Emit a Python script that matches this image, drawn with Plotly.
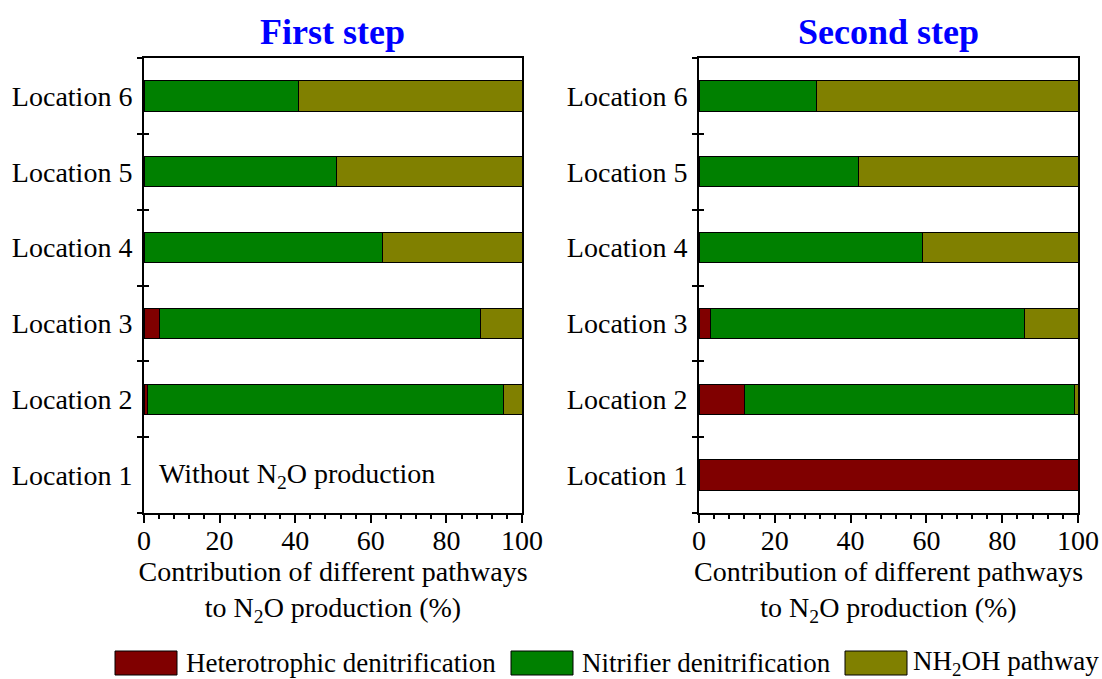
import plotly.graph_objects as go

# Pathway contributions to N2O production (%), per location
locations = ["Location 1", "Location 2", "Location 3", "Location 4", "Location 5", "Location 6"]
pathways = ["Heterotrophic denitrification", "Nitrifier denitrification", "NH<sub>2</sub>OH pathway"]
colors = ["#800000", "#008000", "#808000"]

# First step (Location 1: no N2O production)
first_hetero = [0, 1, 4, 0, 0, 0]
first_nitrifier = [0, 94, 85, 63, 51, 41]
first_nh2oh = [0, 5, 11, 37, 49, 59]

# Second step
second_hetero = [100, 12, 3, 0, 0, 0]
second_nitrifier = [0, 87, 83, 59, 42, 31]
second_nh2oh = [0, 1, 14, 41, 58, 69]

W, H = 1102, 679
FONT = "Liberation Serif"
ypos = list(range(1, len(locations) + 1))

fig = go.Figure()

panels = [
    ("x", "y", [first_hetero, first_nitrifier, first_nh2oh]),
    ("x2", "y2", [second_hetero, second_nitrifier, second_nh2oh]),
]
for xa, ya, series in panels:
    for name, vals, col in zip(pathways, series, colors):
        # zero shares are left out so no empty outlined slivers appear
        shown = [v if v else None for v in vals]
        fig.add_trace(go.Bar(
            y=ypos, x=shown, orientation="h", name=name,
            marker=dict(color=col, line=dict(color="black", width=1)),
            xaxis=xa, yaxis=ya, showlegend=False, width=0.4,
        ))

x_title = "Contribution of different pathways<br>to N<sub>2</sub>O production (%)"
tick_font = dict(family=FONT, size=28, color="black")
ydom = [1 - 513 / H, 1 - 58 / H]
boundaries = [i + 0.5 for i in range(0, len(locations) + 1)]


def xaxis_cfg(dom):
    return dict(
        domain=dom, range=[0, 100], tickvals=[0, 20, 40, 60, 80, 100],
        ticks="outside", ticklen=8, tickwidth=1.5, tickcolor="black",
        minor=dict(dtick=4, tick0=0, ticks="outside", ticklen=4, tickwidth=1.5, tickcolor="black"),
        showline=True, linecolor="black", linewidth=2, mirror=True,
        showgrid=False, zeroline=False, tickfont=tick_font, automargin=False,
        ticklabelstandoff=-7,
        title=dict(text=x_title, font=tick_font, standoff=0),
    )


def yaxis_cfg(anchor):
    return dict(
        domain=ydom, range=[0.5, len(locations) + 0.5], anchor=anchor,
        tickvals=ypos, ticktext=locations, ticks="",
        minor=dict(tickvals=boundaries, ticks="outside", ticklen=5, tickwidth=1.5, tickcolor="black"),
        showline=True, linecolor="black", linewidth=2, mirror=True,
        showgrid=False, zeroline=False, tickfont=tick_font, ticklabelstandoff=4,
        automargin=False,
    )


def yaxis_inner(over, anchor):
    return dict(
        domain=ydom, range=[0.5, len(locations) + 0.5], overlaying=over, anchor=anchor,
        tickvals=boundaries, ticks="inside", ticklen=5, tickwidth=1.5, tickcolor="black",
        showticklabels=False, showline=False, showgrid=False, zeroline=False,
        automargin=False,
    )


xdom1 = [144 / W, 522 / W]
xdom2 = [699 / W, 1078 / W]

fig.update_layout(
    width=W, height=H, margin=dict(l=0, r=0, t=0, b=0, autoexpand=False),
    paper_bgcolor="white", plot_bgcolor="white",
    barmode="stack", font=dict(family=FONT, color="black"),
    xaxis=xaxis_cfg(xdom1), yaxis=yaxis_cfg("x"),
    xaxis2=xaxis_cfg(xdom2), yaxis2=yaxis_cfg("x2"),
    yaxis3=yaxis_inner("y", "x"), yaxis4=yaxis_inner("y2", "x2"),
)

# Invisible traces so the inner tick axes are drawn
for ya, xa in (("y3", "x"), ("y4", "x2")):
    fig.add_trace(go.Scatter(x=[None], y=[None], xaxis=xa, yaxis=ya, showlegend=False, hoverinfo="skip"))

annotations = []
# Panel titles
for dom, label in ((xdom1, "First step"), (xdom2, "Second step")):
    annotations.append(dict(
        x=(dom[0] + dom[1]) / 2, y=1 - 32 / H, xref="paper", yref="paper",
        text=f"<b>{label}</b>", showarrow=False, xanchor="center", yanchor="middle",
        font=dict(family=FONT, size=36, color="#0000FF"),
    ))
# Note for location 1 in the first step
annotations.append(dict(
    x=3.5, y=1, xref="x", yref="y", text="Without N<sub>2</sub>O production",
    showarrow=False, xanchor="left", yanchor="middle",
    font=dict(family=FONT, size=28, color="black"),
))

# Legend drawn as wide swatches with labels underneath the panels
shapes = []
legend_items = [(115, 184), (511, 580), (845, 911)]
for (box_x, text_x), name, col in zip(legend_items, pathways, colors):
    shapes.append(dict(
        type="rect", xref="paper", yref="paper",
        x0=box_x / W, x1=(box_x + 62) / W, y0=1 - 675 / H, y1=1 - 651 / H,
        fillcolor=col, line=dict(color="black", width=1),
    ))
    annotations.append(dict(
        x=text_x / W, y=1 - 663 / H, xref="paper", yref="paper", text=name,
        showarrow=False, xanchor="left", yanchor="middle",
        font=dict(family=FONT, size=27, color="black"),
    ))

fig.update_layout(annotations=annotations, shapes=shapes)

fig.write_html("out.html")
